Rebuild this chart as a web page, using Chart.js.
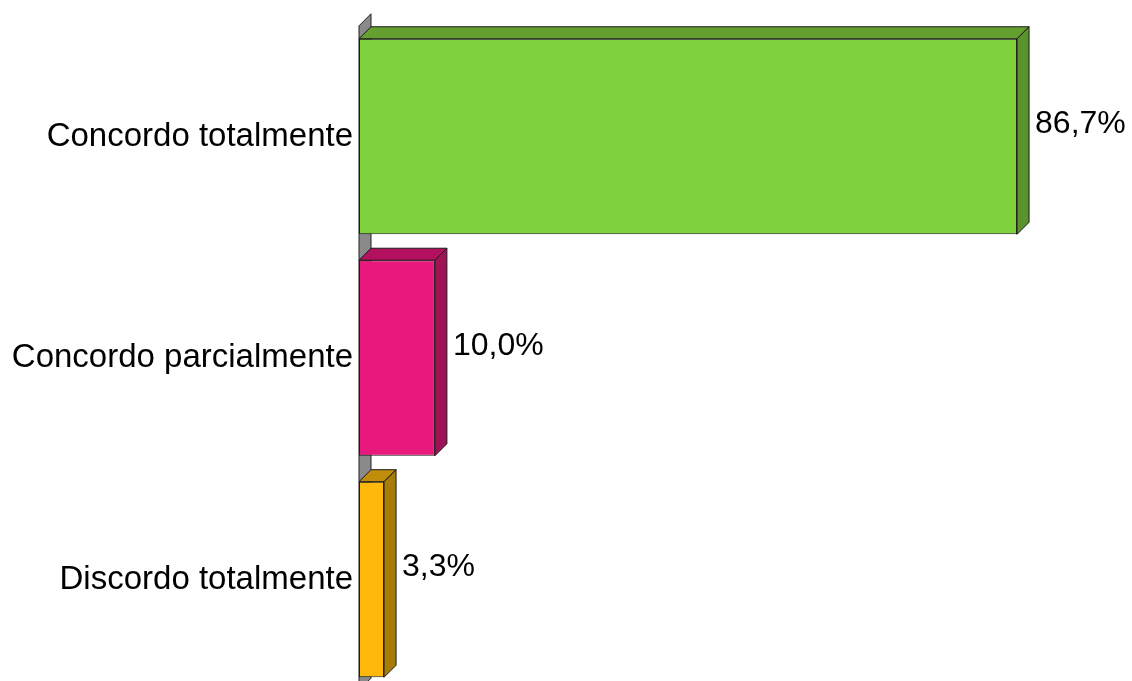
<!DOCTYPE html>
<html>
<head>
<meta charset="utf-8">
<script src="https://cdn.jsdelivr.net/npm/chart.js@4/dist/chart.umd.min.js"></script>
<style>
  html, body { margin: 0; padding: 0; background: #fff; overflow: hidden; }
  canvas { display: block; }
</style>
</head>
<body>
<canvas id="chart" width="1132" height="716"></canvas>
<script>
// data
const categories = ['Concordo totalmente', 'Concordo parcialmente', 'Discordo totalmente'];
const percentages = [86.7, 10.0, 3.3];
const frontColors = ['#7fd23c', '#e9187c', '#ffb80c'];
const topColors = ['#64a02f', '#b2115f', '#c08e0a'];
const sideColors = ['#5a922b', '#a01256', '#a87c08'];

const DEPTH = 12;
const FONT = '"Liberation Sans", Arial, sans-serif';

// grey back wall along the category axis
const wallPlugin = {
  id: 'wall',
  beforeDatasetsDraw(chart) {
    const { ctx, chartArea } = chart;
    const x = chartArea.left;
    ctx.save();
    ctx.fillStyle = '#8a8a8a';
    ctx.strokeStyle = '#222';
    ctx.lineWidth = 1;
    ctx.beginPath();
    ctx.moveTo(x, chartArea.top);
    ctx.lineTo(x + DEPTH, chartArea.top - DEPTH);
    ctx.lineTo(x + DEPTH, chartArea.bottom - DEPTH);
    ctx.lineTo(x, chartArea.bottom);
    ctx.closePath();
    ctx.fill();
    ctx.stroke();
    ctx.restore();
  }
};

// top and right faces of every bar, plus the value labels
const boxPlugin = {
  id: 'box3d',
  afterDatasetsDraw(chart) {
    const { ctx } = chart;
    const meta = chart.getDatasetMeta(0);
    ctx.save();
    ctx.lineWidth = 1;
    ctx.strokeStyle = '#1a1a1a';
    meta.data.forEach((bar, i) => {
      const left = bar.base, right = bar.x;
      const top = bar.y - bar.height / 2, bottom = bar.y + bar.height / 2;
      // top face
      ctx.fillStyle = topColors[i];
      ctx.beginPath();
      ctx.moveTo(left, top);
      ctx.lineTo(left + DEPTH, top - DEPTH);
      ctx.lineTo(right + DEPTH, top - DEPTH);
      ctx.lineTo(right, top);
      ctx.closePath();
      ctx.fill();
      ctx.stroke();
      // side face
      ctx.fillStyle = sideColors[i];
      ctx.beginPath();
      ctx.moveTo(right, top);
      ctx.lineTo(right + DEPTH, top - DEPTH);
      ctx.lineTo(right + DEPTH, bottom - DEPTH);
      ctx.lineTo(right, bottom);
      ctx.closePath();
      ctx.fill();
      ctx.stroke();
      // label
      ctx.fillStyle = '#000';
      ctx.font = '32px ' + FONT;
      ctx.textAlign = 'left';
      ctx.textBaseline = 'middle';
      const txt = percentages[i].toFixed(1).replace('.', ',') + '%';
      ctx.fillText(txt, right + DEPTH + 6, bar.y - 12);
    });
    ctx.restore();
  }
};

new Chart(document.getElementById('chart'), {
  type: 'bar',
  data: {
    labels: categories,
    datasets: [{
      data: percentages,
      backgroundColor: frontColors,
      borderColor: '#1a1a1a',
      borderWidth: 1,
      borderSkipped: false,
      categoryPercentage: 1,
      barPercentage: 0.883
    }]
  },
  options: {
    indexAxis: 'y',
    responsive: false,
    animation: false,
    layout: { padding: { top: 23, right: 14, bottom: 11, left: 0 } },
    plugins: {
      legend: { display: false },
      tooltip: { enabled: false }
    },
    scales: {
      x: { display: false, min: 0, max: 100 },
      y: {
        grid: { display: false, drawTicks: false },
        border: { display: false },
        ticks: {
          color: '#000',
          padding: 6,
          font: { family: FONT, size: 33 }
        },
        afterFit(scale) { scale.width = 359; }
      }
    }
  },
  plugins: [wallPlugin, boxPlugin]
});
</script>
</body>
</html>
